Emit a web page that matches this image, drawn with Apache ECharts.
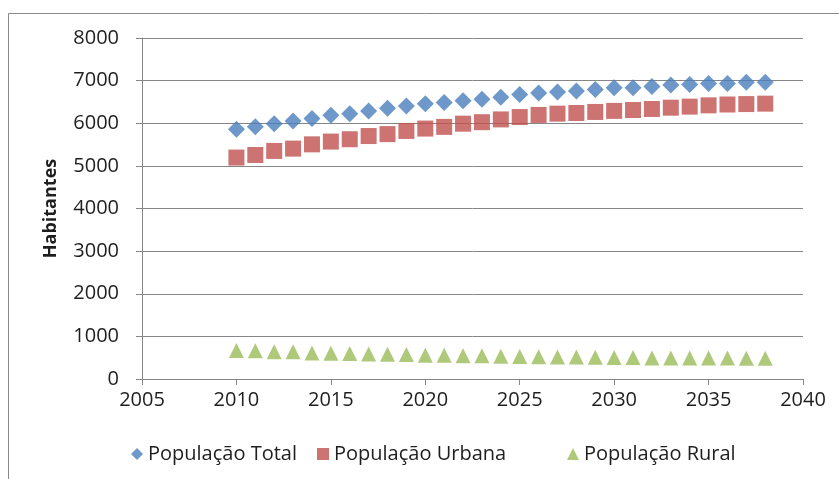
<!DOCTYPE html>
<html><head><meta charset="utf-8">
<script src="https://cdn.jsdelivr.net/npm/echarts@6/dist/echarts.min.js"></script>
<style>html,body{margin:0;padding:0;background:#fff}#c{width:839px;height:479px}</style>
</head><body><div id="c"></div>
<script>
const years = [2010,2011,2012,2013,2014,2015,2016,2017,2018,2019,2020,2021,2022,2023,2024,2025,2026,2027,2028,2029,2030,2031,2032,2033,2034,2035,2036,2037,2038];
const popTotal = [5860,5915,5990,6055,6110,6185,6225,6290,6350,6405,6460,6485,6525,6565,6610,6675,6710,6735,6755,6790,6830,6835,6865,6900,6910,6930,6935,6960,6960];
const popUrbana = [5195,5255,5350,5405,5505,5570,5625,5700,5745,5820,5875,5915,5990,6025,6090,6145,6195,6225,6240,6265,6290,6310,6335,6365,6390,6420,6440,6450,6460];
const popRural = [670,660,640,640,610,605,600,585,580,575,560,560,545,545,535,530,520,515,515,510,505,505,495,495,490,490,490,485,485];
const seriesNames = ['População Total','População Urbana','População Rural'];
const yAxisName = 'Habitantes';
const xMin = 2005, xMax = 2040, xStep = 5;
const yMin = 0, yMax = 8000, yStep = 1000;

const FONT = 'Open Sans';
const GRAY = '#868686';
const TXT = '#1e1e1e';
const pair = arr => years.map((y, i) => [y, arr[i]]);

const chart = echarts.init(document.getElementById('c'), null, {renderer: 'canvas'});
const legendCommon = {
  top: 444, itemWidth: 12, itemHeight: 12, itemGap: 0,
  textStyle: {fontFamily: FONT, fontSize: 20, color: TXT}, padding: 0
};
chart.setOption({
  animation: false,
  backgroundColor: '#fff',
  graphic: [{
    type: 'rect', shape: {x: 8.5, y: 13.5, width: 840, height: 480},
    style: {fill: 'none', stroke: '#8a8a8a', lineWidth: 1}, silent: true
  }],
  grid: {left: 142, right: 36, top: 38, bottom: 100},
  xAxis: {
    type: 'value', min: xMin, max: xMax, interval: xStep,
    axisLine: {show: true, lineStyle: {color: GRAY, width: 1}},
    axisTick: {show: true, length: 6, lineStyle: {color: GRAY}},
    splitLine: {show: false},
    axisLabel: {margin: 11, fontFamily: FONT, fontSize: 20, color: TXT, formatter: v => String(v)}
  },
  yAxis: {
    type: 'value', min: yMin, max: yMax, interval: yStep,
    name: yAxisName, nameLocation: 'middle', nameRotate: 90, nameGap: 82,
    nameTextStyle: {fontFamily: FONT, fontSize: 18, fontWeight: 'bold', color: TXT},
    axisLine: {show: true, lineStyle: {color: GRAY, width: 1}},
    axisTick: {show: true, length: 6, lineStyle: {color: GRAY}},
    splitLine: {show: true, lineStyle: {color: GRAY, width: 1}},
    axisLabel: {margin: 23, fontFamily: FONT, fontSize: 20, color: TXT, formatter: v => String(v)}
  },
  legend: [
    Object.assign({}, legendCommon, {left: 131, data: [seriesNames[0]]}),
    Object.assign({}, legendCommon, {left: 317, data: [seriesNames[1]]}),
    Object.assign({}, legendCommon, {left: 567, data: [seriesNames[2]]})
  ],
  series: [
    {name: seriesNames[0], type: 'scatter', data: pair(popTotal), symbol: 'diamond', symbolSize: [17, 17], itemStyle: {color: '#4A7EBB'}, z: 3},
    {name: seriesNames[1], type: 'scatter', data: pair(popUrbana), symbol: 'rect', symbolSize: [16, 16], itemStyle: {color: '#C0504D'}, z: 2},
    {name: seriesNames[2], type: 'scatter', data: pair(popRural), symbol: 'triangle', symbolSize: [15, 15], itemStyle: {color: '#9BBB59'}, z: 2}
  ]
});
</script>
</body></html>
